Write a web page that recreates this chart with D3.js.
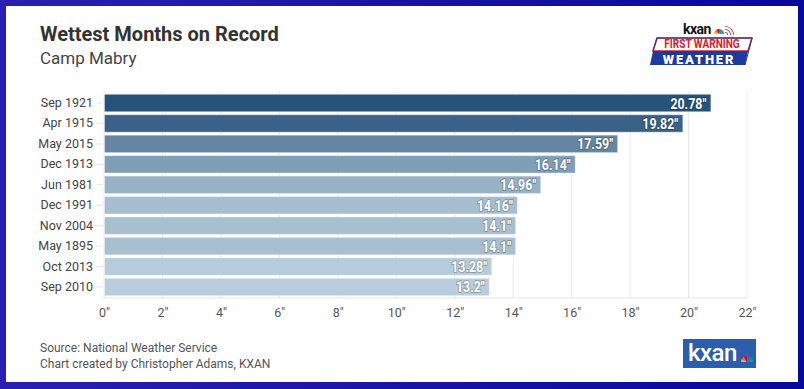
<!DOCTYPE html>
<html>
<head>
<meta charset="utf-8">
<script src="https://cdn.jsdelivr.net/npm/d3@7"></script>
<style>
  html, body { margin: 0; padding: 0; background: #fff; }
  svg { display: block; font-family: Roboto, "Noto Sans", sans-serif; }
</style>
</head>
<body>
<div id="wettest-chart"></div>
<script>
// wettest months at Camp Mabry, inches of rain
const months = ["Sep 1921", "Apr 1915", "May 2015", "Dec 1913", "Jun 1981",
  "Dec 1991", "Nov 2004", "May 1895", "Oct 2013", "Sep 2010"];
const rainfall = [20.78, 19.82, 17.59, 16.14, 14.96, 14.16, 14.1, 14.1, 13.28, 13.2];
const xTicks = [0, 2, 4, 6, 8, 10, 12, 14, 16, 18, 20, 22];

const W = 804, H = 389;
const margin = { top: 93, right: 57, bottom: 92, left: 104 };
const width = W - margin.left - margin.right;
const height = H - margin.top - margin.bottom;

const data = months.map((m, i) => ({ month: m, val: rainfall[i] }));

const svg = d3.select("#wettest-chart").append("svg")
  .attr("width", W)
  .attr("height", H);

// blue frame
const defs = svg.append("defs");
const grad = defs.append("linearGradient").attr("id", "frame").attr("x1", "0").attr("x2", "1");
grad.append("stop").attr("offset", "0").attr("stop-color", "#2b1fb1");
grad.append("stop").attr("offset", "1").attr("stop-color", "#08089a");
svg.append("rect").attr("width", W).attr("height", H).attr("fill", "url(#frame)");
svg.append("rect").attr("x", 6).attr("y", 6).attr("width", W - 12).attr("height", H - 13).attr("fill", "#fff");

// titles
svg.append("text").attr("x", 40).attr("y", 41)
  .attr("font-size", 20).attr("font-weight", 700).attr("fill", "#333")
  .text("Wettest Months on Record");
svg.append("text").attr("x", 40).attr("y", 64)
  .attr("font-size", 17).attr("fill", "#444")
  .text("Camp Mabry");

const g = svg.append("g").attr("transform", `translate(${margin.left},${margin.top})`);

const x = d3.scaleLinear().domain([0, 22]).range([0, width]);
const y = d3.scaleBand().domain(months).range([0, height]).paddingInner(0.1).paddingOuter(0.04);
const color = d3.scaleLinear().domain([13.2, 20.78]).range(["#b9cddc", "#27537a"]);

// grid
g.append("g").selectAll("line")
  .data(xTicks)
  .enter().append("line")
  .attr("x1", d => x(d)).attr("x2", d => x(d))
  .attr("y1", -2).attr("y2", height + 1)
  .attr("stroke", "#ebebeb").attr("stroke-width", 1);
g.append("line").attr("x1", 0).attr("x2", x(22)).attr("y1", height + 1).attr("y2", height + 1)
  .attr("stroke", "#e6e6e6");

// x axis
const xAxis = g.append("g")
  .attr("transform", `translate(0,${height + 1})`)
  .call(d3.axisBottom(x).tickValues(xTicks).tickFormat(d => d + '"').tickSize(0).tickPadding(10));
xAxis.select(".domain").remove();
xAxis.selectAll("text").attr("font-size", 12.5).attr("fill", "#555").attr("font-family", "Roboto");

// y axis
const yAxis = g.append("g")
  .call(d3.axisLeft(y).tickSize(7).tickPadding(4));
yAxis.select(".domain").remove();
yAxis.selectAll("line").attr("stroke", "#e6e6e6").attr("transform", "translate(-1,0)");
yAxis.selectAll("text").attr("font-size", 12.5).attr("fill", "#444").attr("font-family", "Roboto");

// bars
g.selectAll(".bar")
  .data(data)
  .enter().append("rect")
  .attr("class", "bar")
  .attr("x", x(0) + 0.5)
  .attr("y", d => y(d.month) + 0.5)
  .attr("width", d => x(d.val) - x(0) - 1)
  .attr("height", y.bandwidth() - 1)
  .attr("fill", d => color(d.val))
  .attr("stroke", "rgba(255,255,255,0.35)");

// value labels
g.selectAll(".val")
  .data(data)
  .enter().append("text")
  .attr("class", "val")
  .attr("transform", d => `translate(${x(d.val) - 5},${y(d.month) + y.bandwidth() / 2 + 5.5}) scale(0.8,1)`)
  .attr("text-anchor", "end")
  .attr("font-size", 15.5).attr("font-weight", 700)
  .attr("fill", "#fff")
  .attr("stroke", d => d3.color(color(d.val)).darker(0.7))
  .attr("stroke-width", 2).attr("paint-order", "stroke")
  .attr("stroke-linejoin", "round")
  .text(d => d.val + '"');

// footer
svg.append("text").attr("x", 40).attr("y", 352)
  .attr("font-size", 12).attr("fill", "#555").text("Source: National Weather Service");
svg.append("text").attr("x", 40).attr("y", 368)
  .attr("font-size", 12).attr("fill", "#555").text("Chart created by Christopher Adams, KXAN");

const peacockCols = ["#fcb711", "#f37021", "#cc004c", "#6460aa", "#0089d0", "#0db14b"];
function peacock(sel, cx, cy, r) {
  peacockCols.forEach((c, i) => {
    sel.append("path")
      .attr("d", d3.arc().innerRadius(0).outerRadius(r)
        .startAngle(-Math.PI / 2 + i * Math.PI / 6).endAngle(-Math.PI / 2 + (i + 1) * Math.PI / 6))
      .attr("transform", `translate(${cx},${cy})`)
      .attr("fill", c);
  });
}

// top logo
const logo = svg.append("g");
logo.append("text").attr("x", 683).attr("y", 34)
  .attr("font-size", 14).attr("font-weight", 700).attr("fill", "#111")
  .attr("letter-spacing", -0.5).text("kxan");
peacock(logo, 719, 34, 5);
[3, 6, 9].forEach(r => {
  logo.append("path")
    .attr("d", d3.arc().innerRadius(r - 0.8).outerRadius(r).startAngle(0).endAngle(Math.PI / 2))
    .attr("transform", "translate(725,35)")
    .attr("fill", "#d8232a");
});
logo.append("path").attr("d", "M657,38 L752,38 L748,51 L653,51 Z")
  .attr("fill", "#fff").attr("stroke", "#d8232a").attr("stroke-width", 1.6);
logo.append("path").attr("d", "M653,51 L748,51 L745,65 L650,65 Z").attr("fill", "#1e3a9c");
logo.append("path").attr("d", "M653,51 L657,38 L752,38 L745,65").attr("fill", "none")
  .attr("stroke", "#1e3a9c").attr("stroke-width", 1);
logo.append("text").attr("x", 702).attr("y", 48)
  .attr("text-anchor", "middle")
  .attr("transform", "translate(702,0) scale(0.84,1) translate(-702,0)")
  .attr("font-size", 12).attr("font-weight", 700).attr("fill", "#d8232a")
  .text("FIRST WARNING");
logo.append("text").attr("x", 699).attr("y", 64)
  .attr("text-anchor", "middle")
  .attr("font-size", 13).attr("font-weight", 900).attr("fill", "#fff")
  .attr("letter-spacing", 1.8).text("WEATHER");

// bottom logo
const blogo = svg.append("g");
blogo.append("rect").attr("x", 683).attr("y", 339).attr("width", 73).attr("height", 29).attr("fill", "#2b5fad");
blogo.append("text").attr("x", 688).attr("y", 361)
  .attr("font-size", 24).attr("font-weight", 500).attr("fill", "#fff")
  .attr("letter-spacing", -0.5).text("kxan");
peacock(blogo, 747, 362, 6);
</script>
</body>
</html>
